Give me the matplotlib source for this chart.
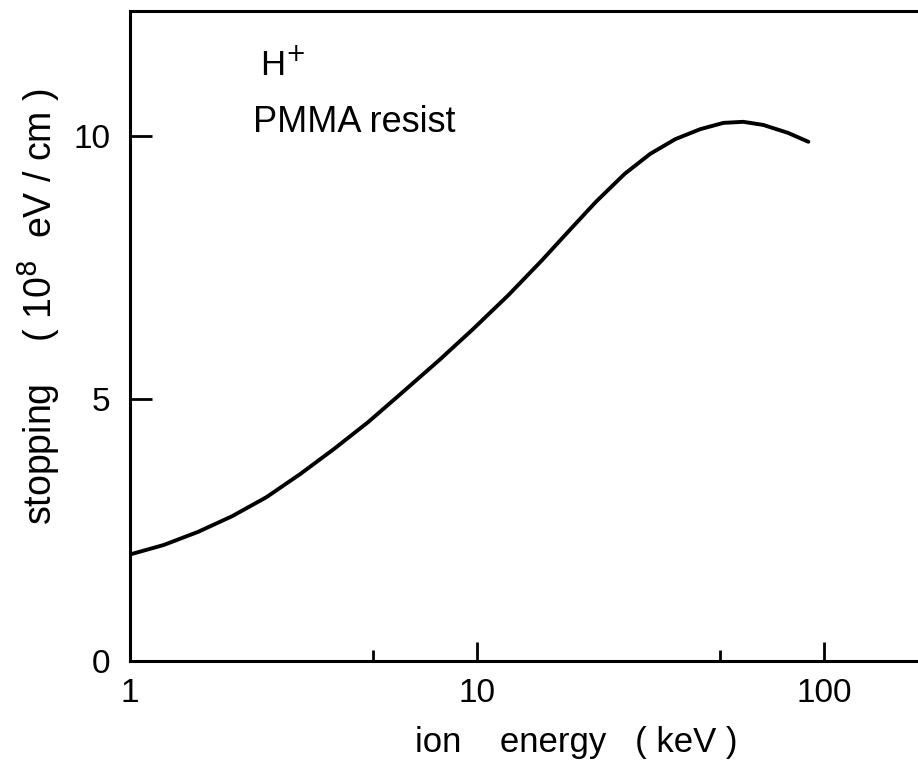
import numpy as np
import matplotlib.pyplot as plt
from matplotlib.ticker import FixedLocator, NullFormatter

# values
energy_kev = [1, 1.25, 1.57, 1.97, 2.47, 3.09, 3.87, 4.85, 6.0, 7.8, 9.72, 12.3,
              15.3, 18.3, 22.0, 26.6, 31.5, 37.2, 43.9, 51.2, 58.4, 66.7, 78.5, 89.9]
stopping = [2.03, 2.21, 2.46, 2.76, 3.12, 3.56, 4.04, 4.55, 5.08, 5.74, 6.32, 6.97,
            7.62, 8.18, 8.75, 9.28, 9.66, 9.94, 10.13, 10.25, 10.27, 10.21, 10.06, 9.89]
x_ticks = [1, 10, 100]
x_ticklabels = ['1', '10', '100']
x_minor = [5, 50]
y_ticks = [0, 5, 10]

plt.rcParams['font.family'] = ['Liberation Sans', 'DejaVu Sans']

fig = plt.figure(figsize=(9.18, 7.66), dpi=100)
ax = fig.add_axes([0.1416, 0.137, 0.8584, 0.8486])

ax.plot(energy_kev, stopping, color='black', lw=2.8,
        solid_capstyle='round', solid_joinstyle='round')

ax.set_xscale('log')
ax.set_xlim(1, 186)
ax.set_ylim(0, 12.38)

ax.set_xticks(x_ticks)
ax.set_xticklabels(x_ticklabels)
ax.xaxis.set_minor_locator(FixedLocator(x_minor))
ax.xaxis.set_minor_formatter(NullFormatter())
ax.set_yticks(y_ticks)

for s in ['left', 'bottom', 'top']:
    ax.spines[s].set_linewidth(2.2)
ax.spines['right'].set_visible(False)

ax.tick_params(axis='x', which='major', direction='in', length=14, width=2,
               labelsize=24, pad=12)
ax.tick_params(axis='x', which='minor', direction='in', length=8, width=2)
ax.tick_params(axis='y', which='major', direction='in', length=16, width=2,
               labelsize=24, pad=14)

ax.set_xlabel('ion    energy   ( keV )', fontsize=25)
ax.xaxis.set_label_coords(0.566, -0.1)
ax.set_ylabel('stopping    ( 10$^{8}$  eV / cm )', fontsize=27)
ax.yaxis.set_label_coords(-0.085, 0.545)

ax.text(2.37, 11.16, 'H$^{+}$', fontsize=25, ha='left', va='baseline')
ax.text(2.26, 10.08, 'PMMA resist', fontsize=26, ha='left', va='baseline')

fig.savefig('out.png', dpi=100)
